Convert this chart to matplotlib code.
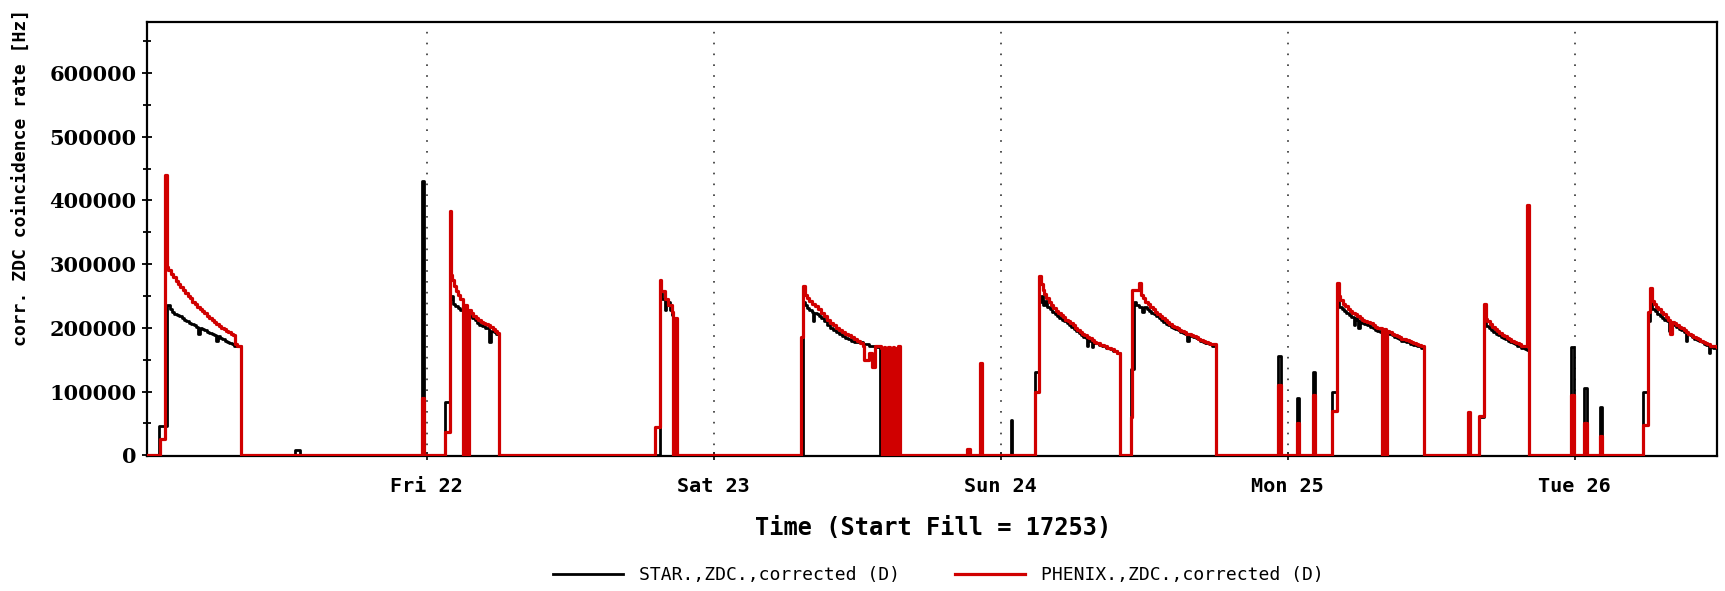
import matplotlib
matplotlib.use("Agg")
import matplotlib.pyplot as plt
from matplotlib.ticker import MultipleLocator, FixedLocator, FixedFormatter

# (hours since Thu 21 00:00, rate in Hz), drawn as steps
star_pts = [
    (0.6, 0), (1.6, 46000), (2.1, 46000),
    (2.3, 235000), (2.5, 229000), (2.7, 225000), (2.9, 222000), (3.1, 220000), (3.3, 218000), (3.5, 215000),
    (3.7, 212000), (3.9, 210000), (4.1, 208000), (4.3, 206000), (4.5, 204000), (4.7, 202000), (4.9, 190000),
    (5.0, 200000), (5.2, 198000), (5.4, 196000), (5.6, 194000), (5.8, 192000), (6.0, 190000), (6.2, 188000),
    (6.4, 180000), (6.5, 187000), (6.7, 184000), (6.9, 182000), (7.1, 180000), (7.3, 178000), (7.5, 176000),
    (7.7, 174000), (7.9, 172000), (8.45, 0),
    (13.0, 8000), (13.4, 0),
    (23.6, 430000), (23.8, 0), (25.5, 84000),
    (25.95, 245000), (26.0, 250000), (26.2, 238000), (26.4, 234000), (26.6, 231000), (26.8, 228000), (27.0, 225000),
    (27.3, 222000), (27.5, 219000), (27.8, 215000), (28.0, 212000), (28.2, 208000), (28.4, 205000), (28.6, 203000),
    (28.9, 200000), (29.2, 178000), (29.4, 195000), (29.6, 193000), (29.8, 190000), (30.0, 0),
    (43.5, 255000), (43.7, 245000), (43.9, 228000), (44.0, 240000), (44.3, 228000), (44.5, 220000),
    (44.6, 0), (44.75, 210000), (44.9, 0),
    (55.45, 240000), (55.6, 235000), (55.8, 231000), (56.0, 228000), (56.2, 225000), (56.3, 210000), (56.4, 224000),
    (56.6, 221000), (56.8, 218000), (57.0, 215000), (57.25, 210000), (57.5, 205000), (57.75, 200000), (58.0, 196000),
    (58.25, 193000), (58.5, 190000), (58.75, 187000), (59.0, 184000), (59.25, 182000), (59.5, 180000),
    (59.75, 178000), (60.0, 177000), (60.5, 175000), (61.0, 172000), (61.6, 170000),
    (61.9, 0), (61.95, 170000), (62.0, 0), (62.05, 168000), (62.1, 0),
    (72.85, 56000), (72.95, 0),
    (74.9, 130000), (75.2, 240000), (75.35, 250000), (75.5, 235000), (75.7, 242000), (75.9, 233000), (76.1, 229000),
    (76.3, 225000), (76.5, 222000), (76.7, 219000), (76.9, 216000), (77.1, 213000), (77.3, 210000), (77.5, 207000),
    (77.7, 204000), (77.9, 201000), (78.1, 198000), (78.3, 195000), (78.5, 192000), (78.7, 189000), (78.9, 186000),
    (79.1, 184000), (79.2, 172000), (79.3, 182000), (79.5, 180000), (79.6, 170000), (79.7, 178000), (79.9, 176000),
    (80.2, 173000), (80.5, 171000), (80.8, 169000), (81.1, 167000), (81.4, 164000), (81.7, 160000), (81.95, 0),
    (82.9, 135000), (83.1, 240000), (83.3, 235000), (83.6, 232000), (83.8, 225000), (84.0, 232000), (84.2, 229000),
    (84.4, 226000), (84.6, 223000), (84.8, 221000), (85.0, 218000), (85.2, 215000), (85.4, 212000), (85.6, 209000),
    (85.8, 206000), (86.0, 204000), (86.2, 202000), (86.4, 200000), (86.6, 198000), (86.8, 196000), (87.0, 194000),
    (87.2, 192000), (87.4, 191000), (87.6, 180000), (87.7, 189000), (87.9, 187000), (88.1, 186000), (88.3, 184000),
    (88.5, 182000), (88.7, 180000), (88.9, 178000), (89.1, 176000), (89.4, 174000), (89.7, 172000), (90.0, 0),
    (95.2, 155000), (95.4, 0), (96.75, 90000), (96.9, 0), (98.1, 130000), (98.25, 0),
    (99.7, 100000), (100.1, 240000), (100.3, 232000), (100.5, 229000), (100.7, 227000), (100.9, 224000),
    (101.1, 220000), (101.3, 217000), (101.5, 205000), (101.6, 215000), (101.8, 212000), (101.9, 200000),
    (102.0, 210000), (102.2, 208000), (102.4, 206000), (102.6, 204000), (102.85, 202000), (103.1, 199000),
    (103.3, 197000), (103.5, 195000), (103.7, 193000), (103.9, 0), (104.05, 190000), (104.3, 192000),
    (104.5, 190000), (104.7, 188000), (104.9, 186000), (105.1, 184000), (105.3, 182000), (105.5, 180000),
    (105.7, 179000), (105.9, 178000), (106.2, 175000), (106.5, 173000), (106.8, 171000), (107.1, 169000),
    (107.3, 168000), (107.4, 0),
    (112.0, 60000), (112.4, 210000), (112.6, 203000), (112.8, 200000), (113.0, 197000), (113.2, 194000),
    (113.4, 191000), (113.6, 189000), (113.8, 186000), (114.0, 184000), (114.2, 182000), (114.4, 180000),
    (114.6, 178000), (114.8, 176000), (115.0, 174000), (115.2, 172000), (115.5, 169000), (115.8, 167000),
    (116.0, 165000), (116.15, 0),
    (119.7, 170000), (119.9, 0), (120.8, 105000), (121.0, 0), (122.1, 75000), (122.25, 0),
    (125.7, 100000), (126.1, 210000), (126.3, 240000), (126.5, 230000), (126.7, 226000), (126.9, 222000),
    (127.1, 219000), (127.3, 216000), (127.5, 213000), (127.7, 210000), (127.9, 195000), (128.1, 207000),
    (128.3, 204000), (128.5, 201000), (128.7, 198000), (128.9, 196000), (129.1, 193000), (129.3, 180000),
    (129.4, 190000), (129.6, 188000), (129.8, 185000), (130.0, 183000), (130.2, 181000), (130.4, 179000),
    (130.6, 177000), (130.8, 175000), (131.0, 173000), (131.2, 160000), (131.35, 170000), (131.6, 168000),
    (131.9, 168000),
]

phenix_pts = [
    (0.6, 0), (1.7, 25000), (2.1, 440000),
    (2.25, 295000), (2.4, 290000), (2.6, 285000), (2.8, 279000), (3.0, 274000), (3.2, 269000), (3.4, 264000),
    (3.6, 259000), (3.8, 255000), (4.0, 250000), (4.2, 246000), (4.4, 241000), (4.6, 237000), (4.8, 233000),
    (5.0, 229000), (5.2, 226000), (5.4, 223000), (5.6, 219000), (5.8, 215000), (6.0, 212000), (6.2, 209000),
    (6.4, 206000), (6.6, 203000), (6.8, 200000), (7.0, 198000), (7.2, 195000), (7.4, 193000), (7.6, 190000),
    (7.8, 188000), (7.95, 175000), (8.1, 172000), (8.45, 0),
    (23.6, 90000), (23.8, 0), (25.5, 37000),
    (25.9, 384000), (26.0, 283000), (26.15, 275000), (26.3, 265000), (26.45, 258000), (26.6, 252000),
    (26.8, 245000), (27.0, 0), (27.1, 236000), (27.4, 0), (27.5, 228000), (27.7, 223000), (27.9, 219000),
    (28.1, 215000), (28.3, 212000), (28.5, 209000), (28.7, 208000), (28.9, 206000), (29.1, 204000),
    (29.3, 201000), (29.5, 198000), (29.7, 195000), (29.9, 192000), (30.0, 0),
    (43.1, 45000), (43.5, 275000), (43.6, 258000), (43.9, 245000), (44.2, 235000), (44.5, 225000),
    (44.6, 0), (44.75, 215000), (44.9, 0),
    (55.3, 185000), (55.45, 265000), (55.6, 252000), (55.8, 246000), (56.0, 242000), (56.25, 238000),
    (56.5, 234000), (56.75, 229000), (57.0, 224000), (57.25, 219000), (57.5, 213000), (57.75, 208000),
    (58.0, 204000), (58.25, 200000), (58.5, 197000), (58.75, 194000), (59.0, 191000), (59.25, 188000),
    (59.5, 185000), (59.75, 182000), (60.0, 179000), (60.25, 176000), (60.45, 172000), (60.6, 150000),
    (61.0, 160000), (61.2, 138000), (61.5, 171000), (62.0, 168000),
    (62.1, 0), (62.2, 170000), (62.3, 0), (62.4, 168000), (62.5, 0), (62.6, 170000), (62.7, 0), (62.8, 166000),
    (62.9, 0), (63.0, 170000), (63.1, 0), (63.2, 168000), (63.3, 0), (63.4, 172000), (63.55, 0),
    (69.2, 10000), (69.4, 0), (70.3, 145000), (70.45, 0),
    (74.9, 100000), (75.2, 281000), (75.35, 268000), (75.5, 260000), (75.65, 253000), (75.8, 247000),
    (76.0, 241000), (76.2, 236000), (76.4, 231000), (76.6, 227000), (76.8, 223000), (77.0, 220000),
    (77.2, 217000), (77.4, 213000), (77.6, 210000), (77.8, 207000), (78.0, 204000), (78.2, 200000),
    (78.4, 197000), (78.6, 194000), (78.8, 191000), (79.0, 188000), (79.2, 186000), (79.4, 184000),
    (79.6, 181000), (79.8, 178000), (80.0, 176000), (80.3, 173000), (80.6, 171000), (80.9, 169000),
    (81.2, 166000), (81.5, 163000), (81.7, 160000), (81.95, 0),
    (82.9, 60000), (83.0, 259000), (83.6, 270000), (83.75, 252000), (83.9, 246000), (84.1, 241000),
    (84.3, 237000), (84.5, 233000), (84.7, 229000), (84.9, 225000), (85.1, 222000), (85.3, 219000),
    (85.5, 216000), (85.7, 213000), (85.9, 209000), (86.1, 206000), (86.3, 203000), (86.5, 201000),
    (86.7, 199000), (86.9, 197000), (87.1, 195000), (87.3, 193000), (87.5, 191000), (87.7, 190000),
    (87.9, 188000), (88.1, 187000), (88.3, 185000), (88.5, 183000), (88.7, 181000), (88.9, 179000),
    (89.1, 178000), (89.3, 176000), (89.5, 175000), (89.7, 174000), (90.0, 0),
    (95.2, 110000), (95.4, 0), (96.75, 50000), (96.9, 0), (98.1, 95000), (98.25, 0),
    (99.7, 70000), (100.1, 270000), (100.25, 250000), (100.4, 243000), (100.6, 238000), (100.8, 234000),
    (101.0, 230000), (101.2, 227000), (101.4, 224000), (101.6, 221000), (101.8, 218000), (102.0, 215000),
    (102.2, 213000), (102.4, 211000), (102.6, 209000), (102.85, 207000), (103.1, 204000), (103.3, 202000),
    (103.5, 200000), (103.7, 199000), (103.9, 0), (104.05, 198000), (104.2, 0), (104.3, 195000),
    (104.5, 193000), (104.7, 191000), (104.9, 189000), (105.1, 187000), (105.3, 185000), (105.5, 183000),
    (105.7, 182000), (105.9, 181000), (106.1, 179000), (106.3, 177000), (106.5, 176000), (106.7, 175000),
    (106.9, 173000), (107.1, 172000), (107.3, 171000), (107.4, 0),
    (111.1, 68000), (111.25, 0), (112.0, 62000),
    (112.4, 237000), (112.55, 214000), (112.7, 210000), (112.9, 206000), (113.1, 202000), (113.3, 198000),
    (113.5, 195000), (113.7, 192000), (113.9, 189000), (114.1, 187000), (114.3, 184000), (114.5, 182000),
    (114.7, 180000), (114.9, 178000), (115.1, 176000), (115.3, 174000), (115.5, 172000), (115.7, 171000),
    (116.0, 392000), (116.15, 0),
    (119.7, 95000), (119.9, 0), (120.8, 50000), (121.0, 0), (122.1, 30000), (122.25, 0),
    (125.7, 48000), (126.1, 225000), (126.3, 262000), (126.45, 242000), (126.6, 237000), (126.8, 233000),
    (127.0, 229000), (127.2, 225000), (127.4, 221000), (127.6, 217000), (127.8, 213000), (128.0, 190000),
    (128.15, 209000), (128.3, 207000), (128.5, 204000), (128.7, 201000), (128.9, 199000), (129.1, 196000),
    (129.3, 194000), (129.5, 191000), (129.7, 189000), (129.9, 186000), (130.1, 184000), (130.3, 182000),
    (130.5, 180000), (130.7, 178000), (130.9, 176000), (131.1, 174000), (131.3, 172000), (131.5, 171000),
    (131.9, 170000),
]

day_hours = [24, 48, 72, 96, 120]
day_labels = ["Fri 22", "Sat 23", "Sun 24", "Mon 25", "Tue 26"]

star_t, star_v = zip(*star_pts)
phenix_t, phenix_v = zip(*phenix_pts)

fig = plt.figure(figsize=(17.25, 5.91), dpi=100)
ax = fig.add_axes([0.0852, 0.2276, 0.9102, 0.7352])

ax.plot(star_t, star_v, drawstyle="steps-post", color="black", lw=2.0,
        label="STAR.,ZDC.,corrected (D)", zorder=3)
ax.plot(phenix_t, phenix_v, drawstyle="steps-post", color="#d00000", lw=2.3,
        label="PHENIX.,ZDC.,corrected (D)", zorder=4)

for h in day_hours:
    ax.axvline(h, color="#333333", lw=1.2, ls=(0, (1, 5.5)), zorder=1)

ax.set_xlim(0.6, 131.9)
ax.set_ylim(-2000, 680000)

ax.yaxis.set_major_locator(MultipleLocator(100000))
ax.yaxis.set_minor_locator(MultipleLocator(50000))
ax.xaxis.set_major_locator(FixedLocator(day_hours))
ax.xaxis.set_major_formatter(FixedFormatter(day_labels))
ax.tick_params(axis="y", which="major", direction="inout", length=7, width=1.3, pad=4)
ax.tick_params(axis="y", which="minor", direction="inout", length=6, width=1.3)
ax.tick_params(axis="x", which="major", direction="inout", length=6, width=1.2, pad=12)
for s in ax.spines.values():
    s.set_linewidth(1.6)

for lab in ax.get_yticklabels():
    lab.set_fontfamily("DejaVu Serif")
    lab.set_fontweight("bold")
    lab.set_fontsize(15)
for lab in ax.get_xticklabels():
    lab.set_fontfamily("DejaVu Sans Mono")
    lab.set_fontweight("bold")
    lab.set_fontsize(14.5)

fig.text(0.0128, 0.70, "corr. ZDC coincidence rate [Hz]", rotation=90, ha="center", va="center",
         fontfamily="DejaVu Sans Mono", fontweight="bold", fontsize=13)
fig.text(0.541, 0.1066, "Time (Start Fill = 17253)", ha="center", va="center",
         fontfamily="DejaVu Sans Mono", fontweight="bold", fontsize=17)

fig.legend(loc="center", bbox_to_anchor=(0.544, 0.027), ncol=2, frameon=False,
           prop={"family": "DejaVu Sans Mono", "size": 13},
           handlelength=3.9, handletextpad=0.9, columnspacing=3.0)

fig.savefig("out.png", dpi=100)
